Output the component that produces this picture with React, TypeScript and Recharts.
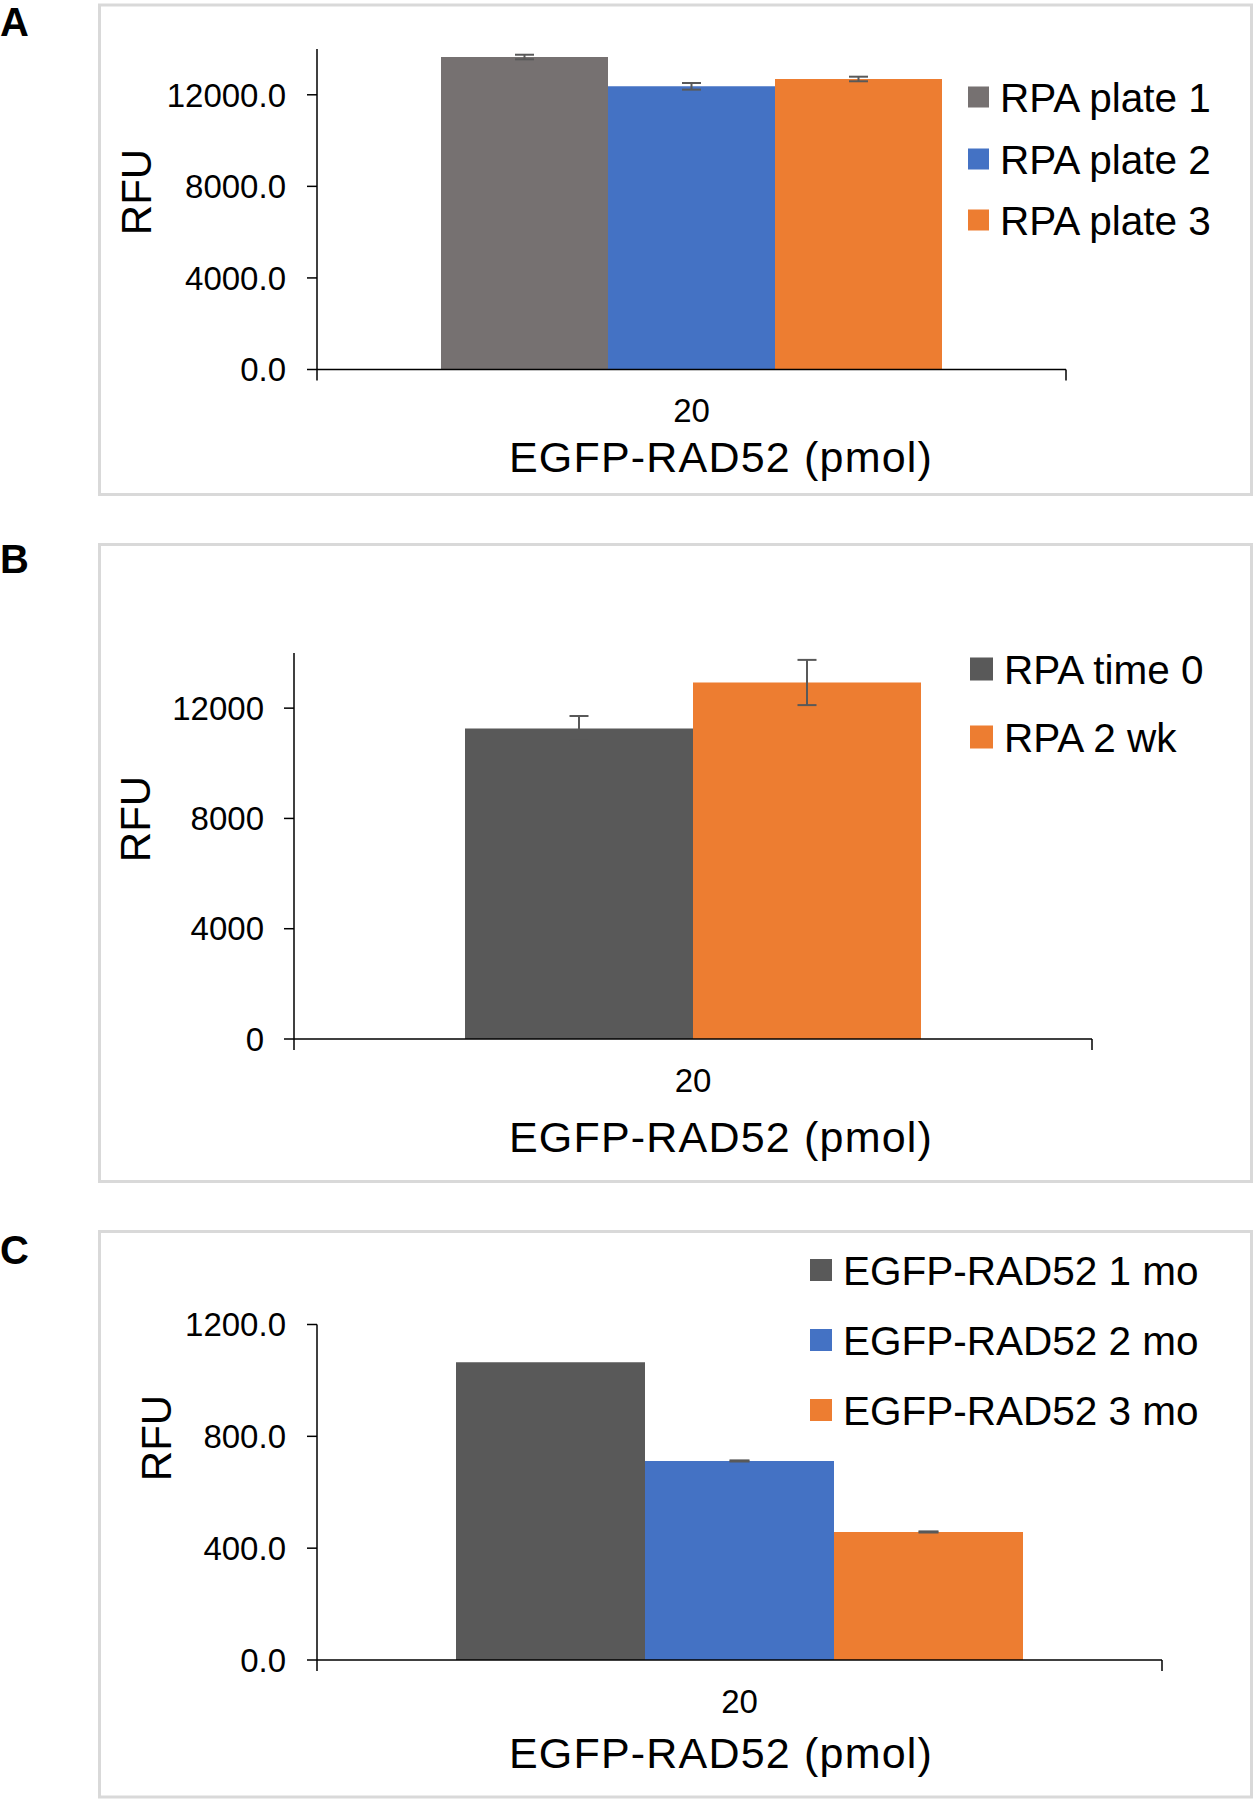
import React from 'react';
import { BarChart, Bar, XAxis, YAxis, ErrorBar } from 'recharts';

const FONT = '"Liberation Sans", Arial, Helvetica, sans-serif';

// ---------- data ----------
const categories = ['20'];

const seriesA = ['RPA plate 1', 'RPA plate 2', 'RPA plate 3'];
const valuesA = [13650, 12370, 12690];
const errorsA = [100, 145, 100];
const colorsA = ['#767171', '#4472C4', '#ED7D31'];
const ticksA = [0, 4000, 8000, 12000];

const seriesB = ['RPA time 0', 'RPA 2 wk'];
const valuesB = [11265, 12930];
const errorsB = [450, 820];
const colorsB = ['#595959', '#ED7D31'];
const ticksB = [0, 4000, 8000, 12000];

const seriesC = ['EGFP-RAD52 1 mo', 'EGFP-RAD52 2 mo', 'EGFP-RAD52 3 mo'];
const valuesC = [1065, 712, 458];
const errorsC = [0, 2, 2];
const colorsC = ['#595959', '#4472C4', '#ED7D31'];
const ticksC = [0, 400, 800, 1200];

const xTitle = 'EGFP-RAD52 (pmol)';
const yTitle = 'RFU';

function buildRows(values: number[], errors: number[]) {
  return categories.map((c) => {
    const row: Record<string, any> = { cat: c };
    values.forEach((v, i) => {
      row['v' + i] = v;
      row['e' + i] = errors[i];
    });
    return row;
  });
}

// ---------- layout config ----------
type PanelCfg = {
  letter: string;
  series: string[];
  values: number[];
  errors: number[];
  colors: string[];
  ticks: number[];
  max: number;
  decimals: number;
  chartTop: number;
  chartHeight: number;
  margin: { top: number; right: number; bottom: number; left: number };
  gap: number;
  tickMargin: number;
  capW: number;
  box: { x: number; y: number; w: number; h: number };
  letterY: number;
  yTitle: { x: number; y: number };
  xTitleY: number;
  legend: { sqX: number; sq: number; textX: number; ys: number[] };
};

const panels: PanelCfg[] = [
  {
    letter: 'A',
    series: seriesA,
    values: valuesA,
    errors: errorsA,
    colors: colorsA,
    ticks: ticksA,
    max: 14000,
    decimals: 1,
    chartTop: 0,
    chartHeight: 500,
    margin: { top: 49, right: 188, bottom: 70.5, left: 217 },
    gap: 124,
    tickMargin: 21,
    capW: 9.5,
    box: { x: 99.5, y: 5, w: 1152, h: 489.5 },
    letterY: 21.5,
    yTitle: { x: 136, y: 192 },
    xTitleY: 457,
    legend: { sqX: 968, sq: 21, textX: 1000, ys: [97, 159, 220] },
  },
  {
    letter: 'B',
    series: seriesB,
    values: valuesB,
    errors: errorsB,
    colors: colorsB,
    ticks: ticksB,
    max: 14000,
    decimals: 0,
    chartTop: 530,
    chartHeight: 660,
    margin: { top: 123, right: 162, bottom: 91, left: 194 },
    gap: 171,
    tickMargin: 20,
    capW: 9.5,
    box: { x: 99.5, y: 544.5, w: 1152, h: 637 },
    letterY: 558.5,
    yTitle: { x: 135, y: 819 },
    xTitleY: 1137,
    legend: { sqX: 970, sq: 23, textX: 1004, ys: [669, 737] },
  },
  {
    letter: 'C',
    series: seriesC,
    values: valuesC,
    errors: errorsC,
    colors: colorsC,
    ticks: ticksC,
    max: 1200,
    decimals: 1,
    chartTop: 1200,
    chartHeight: 600,
    margin: { top: 124.5, right: 92, bottom: 80, left: 217 },
    gap: 139,
    tickMargin: 21,
    capW: 10,
    box: { x: 99.5, y: 1231.5, w: 1152, h: 565.5 },
    letterY: 1250,
    yTitle: { x: 156, y: 1438 },
    xTitleY: 1753,
    legend: { sqX: 810, sq: 22, textX: 843, ys: [1270, 1340, 1410] },
  },
];

const CatTick = (props: any) => {
  const { x, y, payload, fallbackHalf } = props;
  const half = payload && typeof payload.offset === 'number' && payload.offset > 0 ? payload.offset : fallbackHalf;
  return (
    <g>
      <line x1={x - half} x2={x - half} y1={y} y2={y + 11} stroke="#000" strokeWidth={1.5} />
      <line x1={x + half} x2={x + half} y1={y} y2={y + 11} stroke="#000" strokeWidth={1.5} />
      <text x={x} y={y + 41 + 11.8} textAnchor="middle" fontSize={33} fontFamily={FONT} fill="#000">
        {payload.value}
      </text>
    </g>
  );
};

function Panel({ cfg }: { cfg: PanelCfg }) {
  const rows = buildRows(cfg.values, cfg.errors);
  const plotW = 1254 - cfg.margin.left - 100 - cfg.margin.right;
  return (
    <div style={{ position: 'absolute', left: 0, top: cfg.chartTop, width: 1254, height: cfg.chartHeight }}>
      <BarChart
        width={1254}
        height={cfg.chartHeight}
        data={rows}
        margin={cfg.margin}
        barCategoryGap={cfg.gap}
        barGap={0}
      >
        <XAxis
          dataKey="cat"
          height={60}
          interval={0}
          tickLine={false}
          tickSize={0}
          tickMargin={0}
          axisLine={{ stroke: '#000', strokeWidth: 1.5 }}
          tick={<CatTick fallbackHalf={plotW / 2} />}
        />
        <YAxis
          type="number"
          width={100}
          domain={[0, cfg.max]}
          ticks={cfg.ticks}
          interval={0}
          tickSize={10}
          tickMargin={cfg.tickMargin}
          axisLine={{ stroke: '#000', strokeWidth: 1.5 }}
          tickLine={{ stroke: '#000', strokeWidth: 1.5 }}
          tick={{ fill: '#000', fontSize: 33, fontFamily: FONT }}
          tickFormatter={(v: number) => v.toFixed(cfg.decimals)}
        />
        {cfg.series.map((s, i) => (
          <Bar key={s} dataKey={'v' + i} name={s} fill={cfg.colors[i]} isAnimationActive={false}>
            <ErrorBar dataKey={'e' + i} width={cfg.capW} stroke="#595959" strokeWidth={2} direction="y" />
          </Bar>
        ))}
      </BarChart>
    </div>
  );
}

function Overlay() {
  return (
    <svg
      width={1254}
      height={1800}
      style={{ position: 'absolute', left: 0, top: 0, pointerEvents: 'none' }}
    >
      {panels.map((p) => (
        <g key={p.letter}>
          <rect x={p.box.x} y={p.box.y} width={p.box.w} height={p.box.h} fill="none" stroke="#d9d9d9" strokeWidth={3} />
          <text x={0} y={p.letterY + 14.3} fontSize={40} fontWeight="bold" fontFamily={FONT} fill="#000">
            {p.letter}
          </text>
          <text
            x={p.yTitle.x + 15}
            y={p.yTitle.y}
            transform={`rotate(-90 ${p.yTitle.x + 15} ${p.yTitle.y})`}
            textAnchor="middle"
            fontSize={42}
            fontFamily={FONT}
            fill="#000"
          >
            {yTitle}
          </text>
          <text
            x={721}
            y={p.xTitleY + 15}
            textAnchor="middle"
            fontSize={43}
            letterSpacing={1.2}
            fontFamily={FONT}
            fill="#000"
          >
            {xTitle}
          </text>
          {p.series.map((s, i) => (
            <g key={s}>
              <rect
                x={p.legend.sqX}
                y={p.legend.ys[i] - p.legend.sq / 2}
                width={p.legend.sq}
                height={p.legend.sq}
                fill={p.colors[i]}
              />
              <text
                x={p.legend.textX}
                y={p.legend.ys[i] + 14.5}
                fontSize={40.5}
                fontFamily={FONT}
                fill="#000"
              >
                {s}
              </text>
            </g>
          ))}
        </g>
      ))}
    </svg>
  );
}

export default function App() {
  return (
    <div style={{ position: 'absolute', left: 0, top: 0, width: 1254, height: 1800, background: '#fff', fontFamily: FONT }}>
      {panels.map((p) => (
        <Panel key={p.letter} cfg={p} />
      ))}
      <Overlay />
    </div>
  );
}
